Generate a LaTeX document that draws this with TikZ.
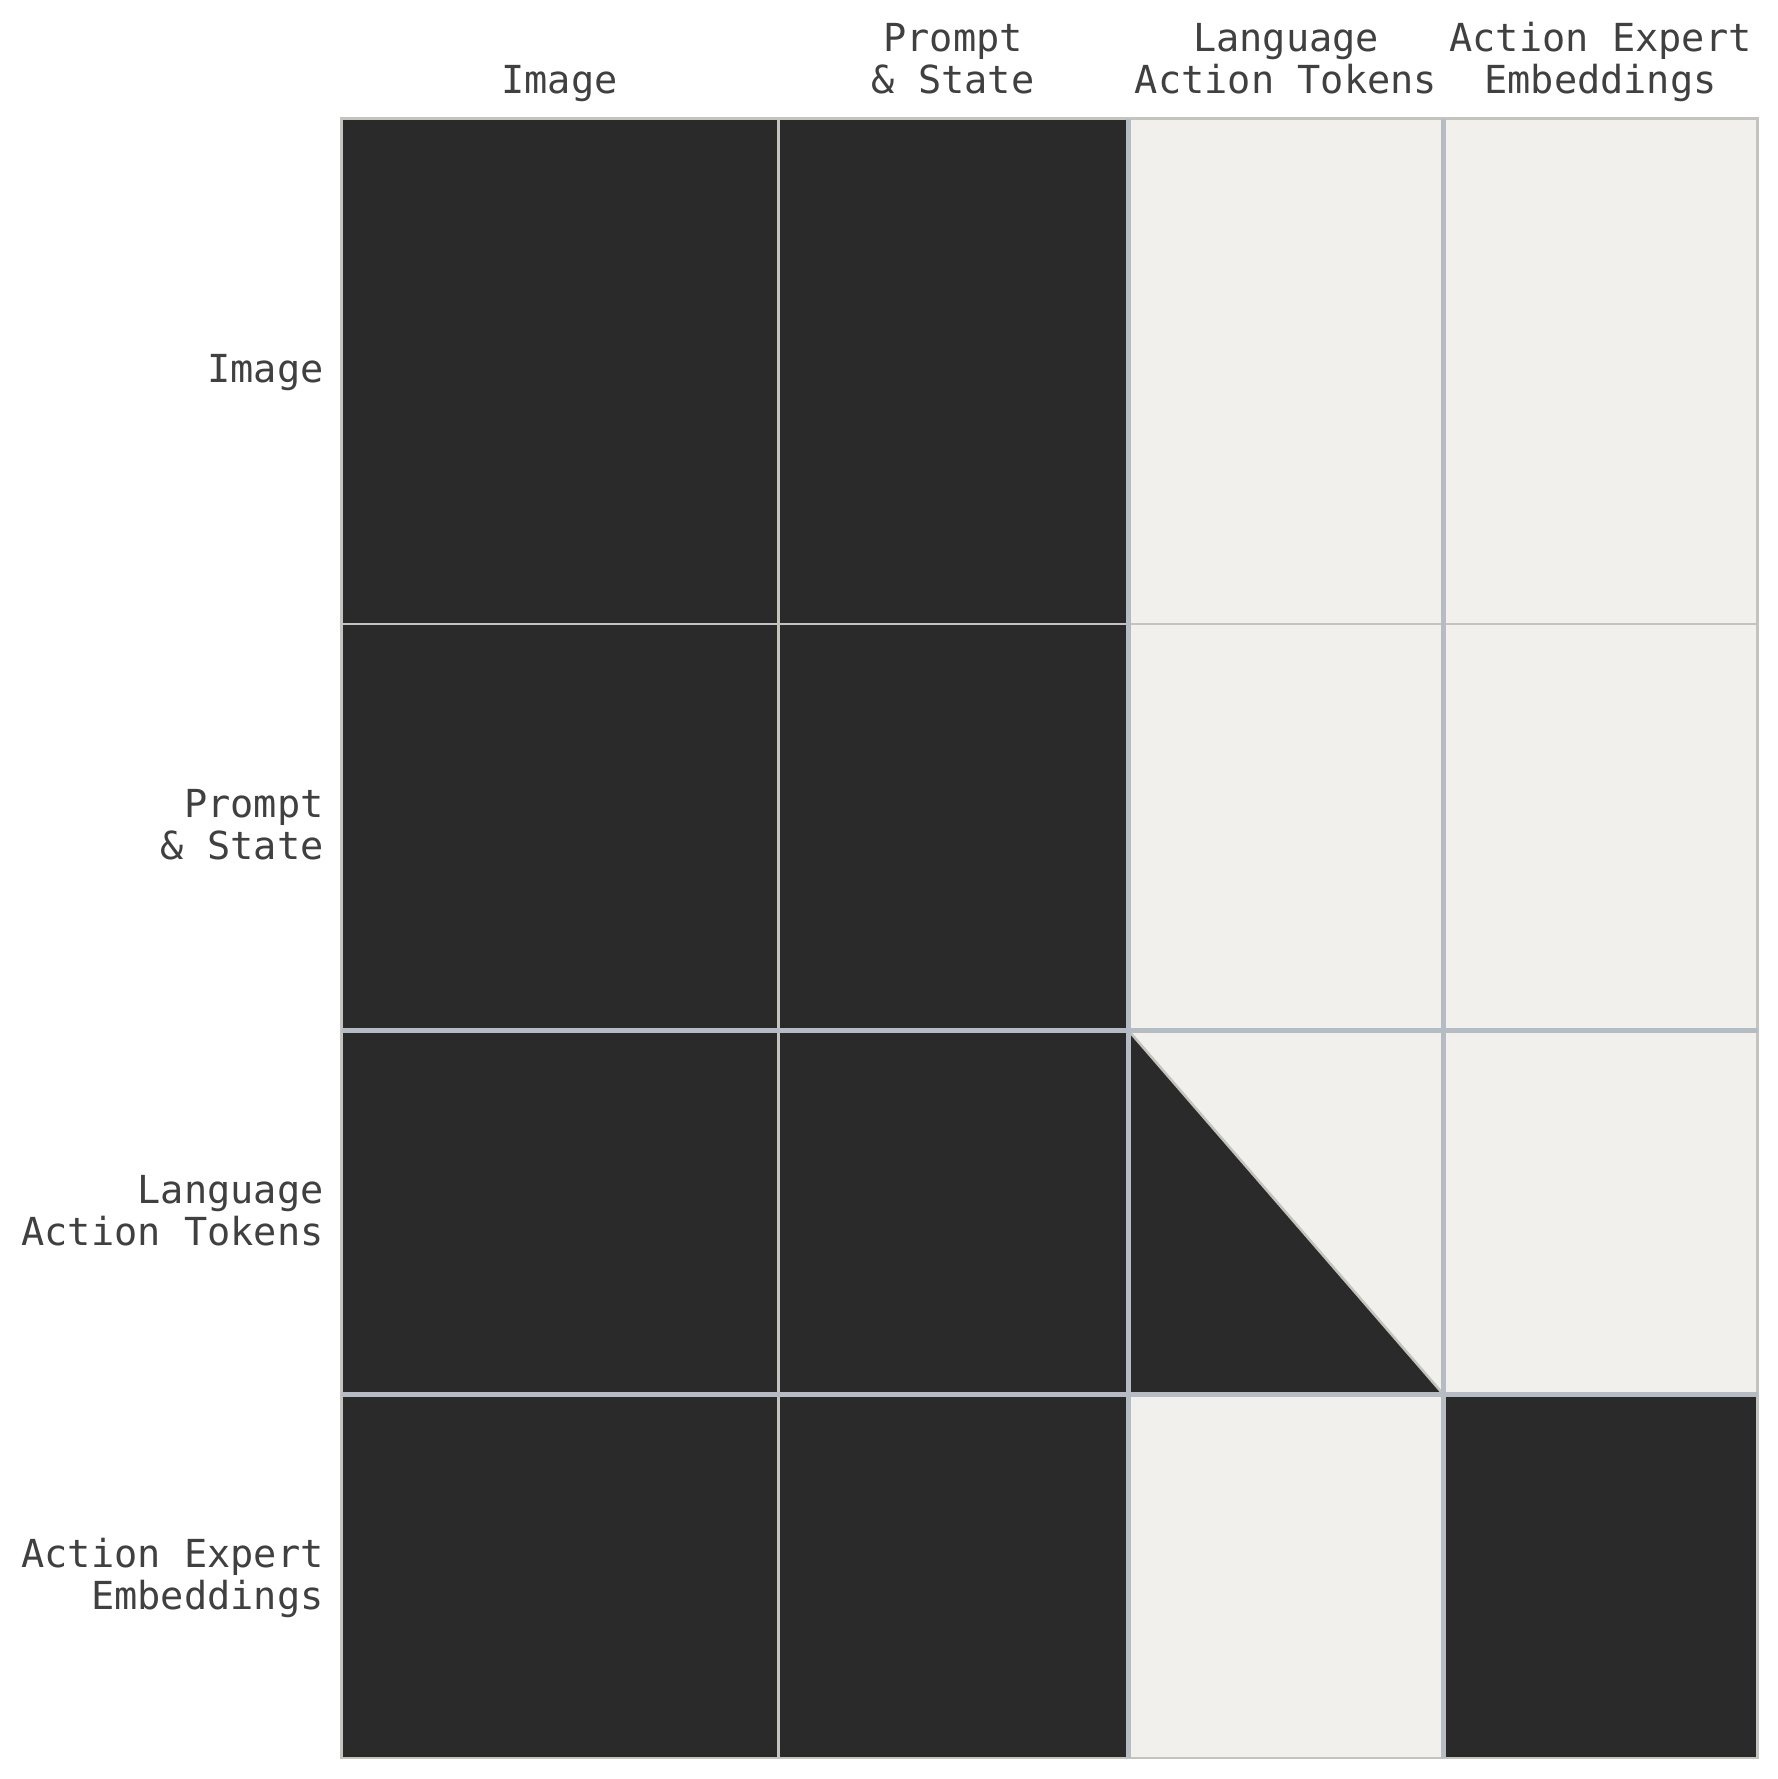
\documentclass[tikz,border=0pt]{standalone}
\usepackage{fontspec}
\newfontfamily\labfont{DejaVu Sans Mono}
\definecolor{darkcell}{HTML}{2A2A2A}
\definecolor{lightcell}{HTML}{F1F0EC}
\definecolor{thinline}{HTML}{C4C4BE}
\definecolor{thickline}{HTML}{B6BCC4}
\definecolor{labtext}{HTML}{404040}
\begin{document}
\begin{tikzpicture}[x=0.5pt,y=-0.5pt,
  lab/.style={font=\labfont\fontsize{19.3pt}{21pt}\selectfont, text=labtext, inner sep=0pt},
  collab/.style={lab, anchor=south, align=center},
  rowlab/.style={lab, anchor=east, align=right},
  dk/.style={fill=darkcell},
  lt/.style={fill=lightcell},
  thinl/.style={draw=thinline, line width=1.25pt},
  thickl/.style={draw=thickline, line width=2.5pt}]
\useasboundingbox (0,0) rectangle (1778,1779);
% column / row boundaries
\def\xa{341.5}\def\xb{778.3}\def\xc{1128.5}\def\xd{1443.5}\def\xe{1757.5}
\def\ya{118.5}\def\yb{624}\def\yc{1030.5}\def\yd{1394.5}\def\ye{1758}
% cells
\fill[dk] (\xa,\ya) rectangle (\xc,\ye);
\fill[lt] (\xc,\ya) rectangle (\xe,\yd);
\fill[lt] (\xc,\yd) rectangle (\xd,\ye);
\fill[dk] (\xd,\yd) rectangle (\xe,\ye);
\fill[dk] (\xc,\yc) -- (\xc,\yd) -- (\xd,\yd) -- cycle;
% thin lines
\draw[thinl] (\xc,\yc) -- (\xd,\yd);
\draw[thinl] (\xb,\ya) -- (\xb,\ye);
\draw[thinl] (\xa,\yb) -- (\xe,\yb);
\draw[thinl] (\xa,\ya) rectangle (\xe,\ye);
% thick lines
\draw[thickl] (\xc,\ya) -- (\xc,\ye);
\draw[thickl] (\xd,\ya) -- (\xd,\ye);
\draw[thickl] (\xa,\yc) -- (\xe,\yc);
\draw[thickl] (\xa,\yd) -- (\xe,\yd);
% column labels
\node[collab] (c1) at (559.5,106) {Image\strut};
\node[collab] (c2) at (953,106) {Prompt\\\& State\strut};
\node[collab] (c3) at (1286,106) {Language\\Action Tokens\strut};
\node[collab] (c4) at (1600.5,106) {Action Expert\\Embeddings\strut};
% row labels
\node[rowlab] (r1) at (324,373) {Image};
\node[rowlab] (r2) at (324,825) {Prompt\\\& State};
\node[rowlab] (r3) at (324,1211) {Language\\Action Tokens};
\node[rowlab] (r4) at (324,1578) {Action Expert\\Embeddings};
\end{tikzpicture}
\end{document}
